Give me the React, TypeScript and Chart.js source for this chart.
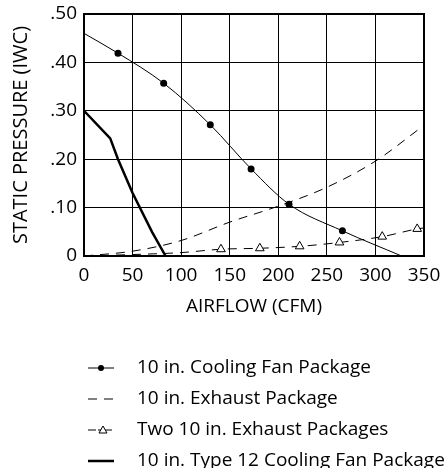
import { useEffect, useRef } from "react";
import { Chart, registerables } from "chart.js";

Chart.register(...registerables);

const airflowMin = 0;
const airflowMax = 350;
const airflowStep = 50;
const pressureMin = 0;
const pressureMax = 0.5;
const pressureStep = 0.1;
const pressureTickLabels = ["0", ".10", ".20", ".30", ".40", ".50"];

const seriesLabels = [
  "10 in. Cooling Fan Package",
  "10 in. Exhaust Package",
  "Two 10 in. Exhaust Packages",
  "10 in. Type 12 Cooling Fan Package",
];

const coolingFanX = [0, 35, 82, 130, 172, 211, 266, 327];
const coolingFanY = [0.46, 0.419, 0.357, 0.271, 0.18, 0.107, 0.052, 0];
const coolingFanMarked = [false, true, true, true, true, true, true, false];

const exhaustX = [0, 50, 100, 150, 200, 250, 300, 350];
const exhaustY = [0, 0.01, 0.032, 0.07, 0.103, 0.142, 0.196, 0.27];

const twoExhaustX = [0, 50, 100, 141, 181, 222, 263, 307, 343, 350];
const twoExhaustY = [0, 0.003, 0.007, 0.014, 0.016, 0.02, 0.028, 0.04, 0.056, 0.058];
const twoExhaustMarked = [false, false, false, true, true, true, true, true, true, false];

const type12X = [0, 27, 35, 50, 70, 84];
const type12Y = [0.3, 0.243, 0.2, 0.13, 0.05, 0];

const FONT = "'Open Sans', sans-serif";
const TEXT_SIZE = 19;

const toPoints = (xs: number[], ys: number[]) => xs.map((x, i) => ({ x, y: ys[i] }));

const frameAndLegend = {
  id: "frameAndLegend",
  afterDatasetsDraw(chart: any) {
    const { ctx, chartArea } = chart;
    ctx.save();
    ctx.strokeStyle = "#000";
    ctx.lineWidth = 2;
    ctx.strokeRect(chartArea.left, chartArea.top, chartArea.right - chartArea.left, chartArea.bottom - chartArea.top);
    ctx.restore();
  },
  afterDraw(chart: any) {
    const { ctx, chartArea } = chart;
    const xScale = chart.scales.x;
    const startY = xScale.bottom + 50;
    const rowGap = 31;
    const symX0 = chartArea.left + 4;
    const symX1 = chartArea.left + 30;
    const textX = chartArea.left + 53;
    ctx.save();
    chart.data.datasets.forEach((ds: any, i: number) => {
      const y = startY + i * rowGap;
      ctx.strokeStyle = "#000";
      ctx.lineWidth = ds.borderWidth;
      ctx.setLineDash(ds.borderDash || []);
      ctx.beginPath();
      if (i === 2) {
        ctx.moveTo(symX0, y);
        ctx.lineTo(symX0 + 8, y);
      } else {
        ctx.moveTo(symX0, y);
        ctx.lineTo(symX1, y);
      }
      ctx.stroke();
      ctx.setLineDash([]);
      if (i === 0) {
        ctx.fillStyle = "#000";
        ctx.beginPath();
        ctx.arc((symX0 + symX1) / 2, y, 3, 0, Math.PI * 2);
        ctx.fill();
      }
      if (i === 2) {
        const cx = symX0 + 15;
        ctx.beginPath();
        ctx.moveTo(symX0 + 10, y);
        ctx.lineTo(symX1 - 2, y);
        ctx.stroke();
        ctx.fillStyle = "#fff";
        ctx.lineWidth = 1;
        ctx.beginPath();
        ctx.moveTo(cx, y - 4);
        ctx.lineTo(cx + 4, y + 3);
        ctx.lineTo(cx - 4, y + 3);
        ctx.closePath();
        ctx.fill();
        ctx.stroke();
      }
      ctx.fillStyle = "#000";
      ctx.font = `${TEXT_SIZE}px ${FONT}`;
      ctx.textBaseline = "middle";
      ctx.textAlign = "left";
      ctx.fillText(ds.label, textX, y);
    });
    ctx.restore();
  },
};

export default function App() {
  const canvasRef = useRef<HTMLCanvasElement | null>(null);

  useEffect(() => {
    if (!canvasRef.current) return;
    const chart = new Chart(canvasRef.current, {
      type: "line",
      data: {
        datasets: [
          {
            label: seriesLabels[0],
            data: toPoints(coolingFanX, coolingFanY),
            borderColor: "#000",
            borderWidth: 1,
            cubicInterpolationMode: "monotone",
            pointRadius: coolingFanMarked.map((m) => (m ? 3.5 : 0)),
            pointBackgroundColor: "#000",
            pointBorderColor: "#000",
            pointBorderWidth: 0,
            fill: false,
          },
          {
            label: seriesLabels[1],
            data: toPoints(exhaustX, exhaustY),
            borderColor: "#000",
            borderWidth: 1,
            borderDash: [9, 7],
            cubicInterpolationMode: "monotone",
            pointRadius: 0,
            fill: false,
          },
          {
            label: seriesLabels[2],
            data: toPoints(twoExhaustX, twoExhaustY),
            borderColor: "#000",
            borderWidth: 1,
            borderDash: [9, 7],
            cubicInterpolationMode: "monotone",
            pointStyle: "triangle",
            pointRadius: twoExhaustMarked.map((m) => (m ? 5 : 0)),
            pointBackgroundColor: "#fff",
            pointBorderColor: "#000",
            pointBorderWidth: 1,
            fill: false,
          },
          {
            label: seriesLabels[3],
            data: toPoints(type12X, type12Y),
            borderColor: "#000",
            borderWidth: 2.5,
            tension: 0,
            pointRadius: 0,
            fill: false,
          },
        ],
      },
      options: {
        animation: false,
        responsive: true,
        maintainAspectRatio: false,
        layout: { padding: { left: 0, right: 21, top: 14, bottom: 150 } },
        plugins: {
          legend: { display: false },
          tooltip: { enabled: false },
        },
        scales: {
          x: {
            type: "linear",
            min: airflowMin,
            max: airflowMax,
            afterFit: (s: any) => {
              s.height = 62;
              s.paddingLeft = 0;
              s.paddingRight = 0;
            },
            ticks: {
              stepSize: airflowStep,
              color: "#000",
              font: { family: FONT, size: TEXT_SIZE },
              padding: 8,
              maxRotation: 0,
            },
            grid: { color: "#000", lineWidth: 1, drawTicks: false },
            border: { display: false },
            title: {
              display: true,
              text: "AIRFLOW (CFM)",
              color: "#000",
              font: { family: FONT, size: TEXT_SIZE },
              padding: { top: 0, bottom: 0 },
            },
          },
          y: {
            type: "linear",
            min: pressureMin,
            max: pressureMax,
            afterFit: (s: any) => {
              s.width = 84;
              s.paddingTop = 0;
              s.paddingBottom = 0;
            },
            ticks: {
              stepSize: pressureStep,
              color: "#000",
              font: { family: FONT, size: TEXT_SIZE },
              padding: 7,
              callback: (_v: any, i: number) => pressureTickLabels[i],
            },
            grid: { color: "#000", lineWidth: 1, drawTicks: false },
            border: { display: false },
            title: {
              display: true,
              text: "STATIC PRESSURE (IWC)",
              color: "#000",
              font: { family: FONT, size: 20 },
              padding: { top: 9, bottom: 0 },
            },
          },
        },
      },
      plugins: [frameAndLegend],
    });
    return () => chart.destroy();
  }, []);

  return (
    <div style={{ position: "absolute", left: 0, top: 0, width: 445, height: 468 }}>
      <canvas ref={canvasRef} style={{ width: "100%", height: "100%" }} />
    </div>
  );
}
